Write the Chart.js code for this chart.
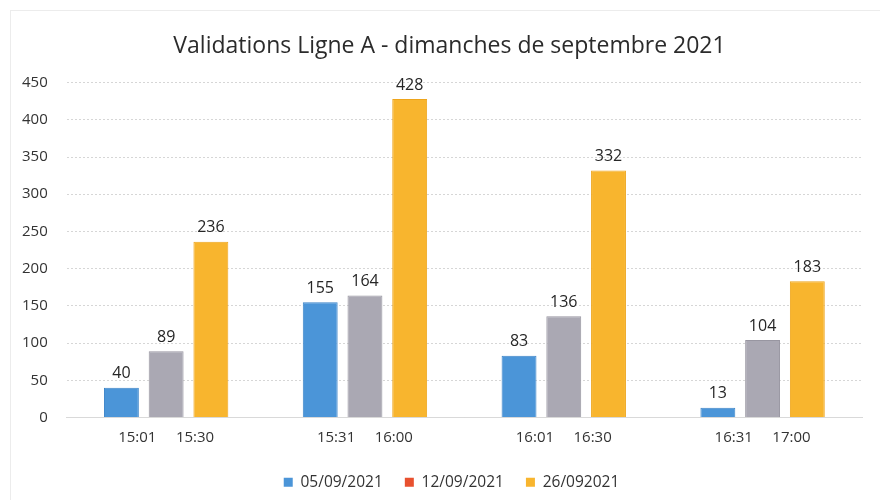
<!DOCTYPE html>
<html>
<head>
<meta charset="utf-8">
<script src="https://cdn.jsdelivr.net/npm/chart.js@4/dist/chart.umd.min.js"></script>
<style>
  html, body { margin: 0; padding: 0; background: #fff; }
  #wrap { position: relative; width: 880px; height: 500px; }
  #frame { position: absolute; left: 10px; top: 10px; right: 0; bottom: 0; border-left: 1px solid #ececec; border-top: 1px solid #ececec; pointer-events: none; }
  canvas { display: block; }
</style>
</head>
<body>
<div id="wrap">
  <canvas id="c" width="880" height="500"></canvas>
  <div id="frame"></div>
</div>
<script>
const categories = ["15:01     15:30", "15:31     16:00", "16:01     16:30", "16:31     17:00"];
const seriesNames = ["05/09/2021", "12/09/2021", "26/092021"];
const values0509 = [40, 155, 83, 13];
const values1209 = [89, 164, 136, 104];
const values2609 = [236, 428, 332, 183];
const yTicks = [0, 50, 100, 150, 200, 250, 300, 350, 400, 450];

const barColors = ["#4b95d8", "#aaa8b3", "#f8b52e"];
const barBorders = ["#3b84c8", "#9896a1", "#eea51c"];
const legendColors = ["#4b95d8", "#e8512f", "#f8b52e"];
const FONT = "'Open Sans', 'Liberation Sans', sans-serif";

const valueLabels = {
  id: 'valueLabels',
  afterDatasetsDraw(chart) {
    const ctx = chart.ctx;
    ctx.save();
    ctx.font = "16px " + FONT;
    ctx.fillStyle = "#262626";
    ctx.textAlign = "center";
    ctx.textBaseline = "bottom";
    chart.data.datasets.forEach((ds, i) => {
      chart.getDatasetMeta(i).data.forEach((bar, j) => {
        ctx.fillText(String(ds.data[j]), bar.x, bar.y - 6);
      });
    });
    ctx.restore();
  }
};

const shiftBlocks = {
  id: 'shiftBlocks',
  afterLayout(chart) {
    if (chart.legend) { chart.legend.left += 19; chart.legend.right += 19; }
    if (chart.titleBlock) { chart.titleBlock.left += 17; chart.titleBlock.right += 17; }
  }
};

new Chart(document.getElementById('c'), {
  type: 'bar',
  data: {
    labels: categories,
    datasets: [
      { label: seriesNames[0], data: values0509, backgroundColor: barColors[0], borderColor: barBorders[0], borderWidth: 1 },
      { label: seriesNames[1], data: values1209, backgroundColor: barColors[1], borderColor: barBorders[1], borderWidth: 1 },
      { label: seriesNames[2], data: values2609, backgroundColor: barColors[2], borderColor: barBorders[2], borderWidth: 1 }
    ]
  },
  options: {
    responsive: false,
    animation: false,
    devicePixelRatio: 1,
    datasets: { bar: { categoryPercentage: 0.675, barPercentage: 0.78 } },
    layout: { padding: { left: 3, right: 18, top: 25, bottom: 0 } },
    plugins: {
      tooltip: { enabled: false },
      title: {
        display: true,
        text: "Validations Ligne A - dimanches de septembre 2021",
        color: "#2b2b2b",
        font: { family: FONT, size: 23, weight: 'normal' },
        padding: { top: 8, bottom: 22 }
      },
      legend: {
        position: 'bottom',
        labels: {
          boxWidth: 9,
          boxHeight: 9,
          padding: 10,
          color: "#333",
          font: { family: FONT, size: 15.5 },
          generateLabels(chart) {
            const n = chart.data.datasets.length;
            return chart.data.datasets.map((ds, i) => ({
              text: i < n - 1 ? ds.label + "   " : ds.label,
              fillStyle: legendColors[i],
              strokeStyle: legendColors[i],
              lineWidth: 0,
              fontColor: "#333",
              datasetIndex: i
            }));
          }
        }
      }
    },
    scales: {
      x: {
        grid: { display: false, drawTicks: false },
        border: { color: "#d9d9d9" },
        ticks: { color: "#333", font: { family: FONT, size: 15 }, padding: 11, maxRotation: 0, autoSkip: false },
        afterFit(axis) { axis.height = 47; }
      },
      y: {
        min: 0, max: 450,
        afterBuildTicks(axis) { axis.ticks = yTicks.map(v => ({ value: v })); },
        grid: { color: "#d6d6d6", drawTicks: false },
        border: { display: false, dash: [2, 2] },
        ticks: { color: "#333", font: { family: FONT, size: 15 }, padding: 19 }
      }
    }
  },
  plugins: [valueLabels, shiftBlocks]
});
</script>
</body>
</html>
